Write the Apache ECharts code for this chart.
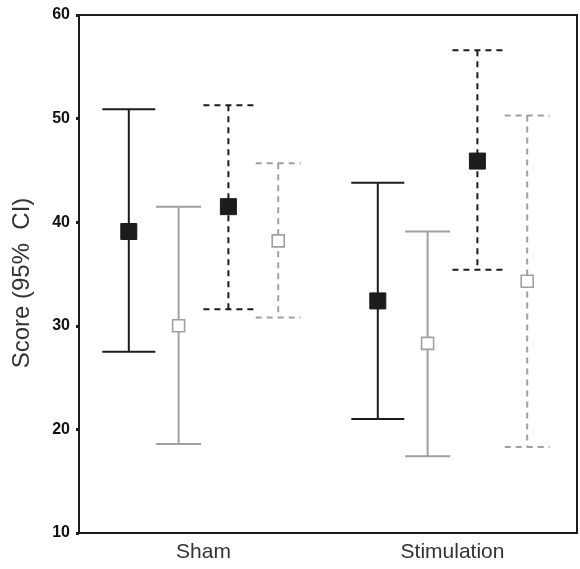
<!DOCTYPE html>
<html>
<head>
<meta charset="utf-8">
<script src="https://cdn.jsdelivr.net/npm/echarts@6/dist/echarts.min.js"></script>
<style>
  html, body { margin: 0; padding: 0; background: #fff; }
  #chart { width: 580px; height: 569px; }
</style>
</head>
<body>
<div id="chart"></div>
<script>
// categories on the x axis
const categories = ['Sham', 'Stimulation'];
const yTicks = [10, 20, 30, 40, 50, 60];

// mean and 95% CI per group, one value per category
const solidBlackMean = [39.1, 32.4];
const solidBlackLow = [27.5, 21.0];
const solidBlackHigh = [50.9, 43.8];

const solidGrayMean = [30.0, 28.3];
const solidGrayLow = [18.6, 17.4];
const solidGrayHigh = [41.5, 39.1];

const dashedBlackMean = [41.5, 45.9];
const dashedBlackLow = [31.6, 35.4];
const dashedBlackHigh = [51.3, 56.6];

const dashedGrayMean = [38.2, 34.3];
const dashedGrayLow = [30.8, 18.3];
const dashedGrayHigh = [45.7, 50.3];

const BLACK = '#1c1c1c';
const GRAY = '#a0a0a0';

function toRows(low, mean, high) {
    return categories.map((c, i) => [i, low[i], mean[i], high[i]]);
}

// error bar with square marker
function makeSeries(name, rows, opt) {
    return {
        name: name,
        type: 'custom',
        data: rows,
        encode: { x: 0, y: [1, 2, 3] },
        z: opt.z || 2,
        renderItem: function (params, api) {
            const cat = api.value(0);
            const band = api.size([1, 0])[0];
            const mid = api.coord([cat, api.value(2)]);
            const x = mid[0] + opt.offset * band;
            const yLo = api.coord([cat, api.value(1)])[1];
            const yHi = api.coord([cat, api.value(3)])[1];
            const half = opt.cap / 2;
            const line = {
                stroke: opt.color,
                lineWidth: opt.width,
                lineDash: opt.dash || null
            };
            const s = opt.marker;
            return {
                type: 'group',
                children: [
                    { type: 'line', shape: { x1: x, y1: yHi, x2: x, y2: yLo }, style: line },
                    { type: 'line', shape: { x1: x - half, y1: yHi, x2: x + half, y2: yHi }, style: line },
                    { type: 'line', shape: { x1: x - half, y1: yLo, x2: x + half, y2: yLo }, style: line },
                    {
                        type: 'rect',
                        shape: { x: x - s / 2, y: mid[1] - s / 2, width: s, height: s },
                        style: opt.filled
                            ? { fill: opt.color, stroke: opt.color, lineWidth: 1 }
                            : { fill: '#fff', stroke: opt.color, lineWidth: 1.6 }
                    }
                ]
            };
        }
    };
}

const chart = echarts.init(document.getElementById('chart'));

const option = {
    animation: false,
    grid: {
        left: 79,
        right: 3,
        top: 15,
        bottom: 36,
        show: true,
        borderColor: BLACK,
        borderWidth: 2
    },
    xAxis: {
        type: 'category',
        data: categories,
        axisLine: { lineStyle: { color: BLACK, width: 2 } },
        axisTick: { alignWithLabel: true, length: 3, lineStyle: { color: BLACK, width: 3 } },
        axisLabel: {
            margin: 9,
            fontSize: 21,
            color: '#333',
            fontFamily: 'Liberation Sans'
        },
        splitLine: { show: false }
    },
    yAxis: {
        type: 'value',
        min: yTicks[0],
        max: yTicks[yTicks.length - 1],
        interval: 10,
        name: 'Score (95%  CI)',
        nameLocation: 'middle',
        nameGap: 45,
        nameTextStyle: {
            fontSize: 24,
            color: '#333',
            fontFamily: 'Liberation Sans',
            padding: [0, 18, 0, 0]
        },
        axisLine: { show: true, lineStyle: { color: BLACK, width: 2 } },
        axisTick: { show: true, length: 3, lineStyle: { color: BLACK, width: 3 } },
        axisLabel: {
            margin: 9,
            fontSize: 16,
            fontWeight: 'bold',
            color: '#111',
            fontFamily: 'Liberation Sans'
        },
        splitLine: { show: false }
    },
    series: [
        makeSeries('Solid black', toRows(solidBlackLow, solidBlackMean, solidBlackHigh),
            { offset: -0.3, color: BLACK, width: 2, cap: 53, marker: 16, filled: true, z: 3 }),
        makeSeries('Solid gray', toRows(solidGrayLow, solidGrayMean, solidGrayHigh),
            { offset: -0.1, color: GRAY, width: 2, cap: 45, marker: 12, filled: false }),
        makeSeries('Dashed black', toRows(dashedBlackLow, dashedBlackMean, dashedBlackHigh),
            { offset: 0.1, color: BLACK, width: 2, cap: 50, marker: 16, filled: true, dash: [6, 5], z: 3 }),
        makeSeries('Dashed gray', toRows(dashedGrayLow, dashedGrayMean, dashedGrayHigh),
            { offset: 0.3, color: GRAY, width: 2, cap: 45, marker: 12, filled: false, dash: [6, 5] })
    ]
};

chart.setOption(option);
</script>
</body>
</html>
